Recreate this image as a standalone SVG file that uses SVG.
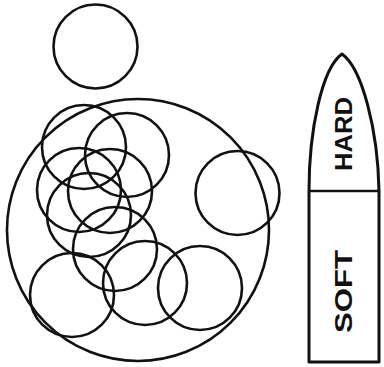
<svg xmlns="http://www.w3.org/2000/svg" width="384" height="367" viewBox="0 0 384 367">
<style>
.c{fill:none;stroke:#111;stroke-width:2.6}
.b{fill:none;stroke:#111;stroke-width:3;stroke-linejoin:round}
.t{font-family:"Liberation Sans",Arial,sans-serif;font-weight:bold;font-size:24px;fill:#111}
</style>
<rect width="384" height="367" fill="#fff"/>
<g id="top-circle"><circle class="c" cx="95.5" cy="46.5" r="42"/></g>
<g id="big-circle"><circle class="c" cx="138" cy="230" r="131"/></g>
<g id="c-a"><circle class="c" cx="84" cy="147" r="42"/></g>
<g id="c-b"><circle class="c" cx="127" cy="155" r="42"/></g>
<g id="c-c"><circle class="c" cx="79" cy="190" r="42"/></g>
<g id="c-d"><circle class="c" cx="110" cy="191" r="42"/></g>
<g id="c-e"><circle class="c" cx="89" cy="215" r="42"/></g>
<g id="c-f"><circle class="c" cx="115" cy="249" r="42"/></g>
<g id="c-g"><circle class="c" cx="72" cy="295" r="42"/></g>
<g id="c-h"><circle class="c" cx="145" cy="283" r="42"/></g>
<g id="c-i"><circle class="c" cx="200" cy="288" r="42"/></g>
<g id="c-j"><circle class="c" cx="237.5" cy="193" r="42"/></g>
<g id="bullet">
<path class="b" d="M309,362 L309,191 C309,130 322,68 342,54 C362,68 378,130 379,191 L379,362 Z"/>
<line x1="309" y1="191" x2="379" y2="191" stroke="#111" stroke-width="2.4"/>
<text class="t" x="343" y="134" text-anchor="middle" dominant-baseline="central" textLength="74" lengthAdjust="spacingAndGlyphs" transform="rotate(-90 343 134)">HARD</text>
<text class="t" x="343" y="291.5" text-anchor="middle" dominant-baseline="central" textLength="83" lengthAdjust="spacingAndGlyphs" transform="rotate(-90 343 291.5)">SOFT</text>
</g>
</svg>
